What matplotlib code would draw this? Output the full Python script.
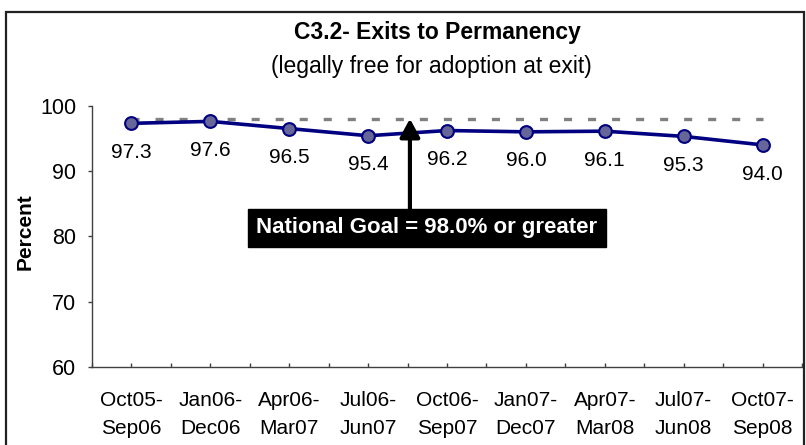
import matplotlib
matplotlib.use("Agg")
import matplotlib.pyplot as plt
from matplotlib.patches import Rectangle
from matplotlib.ticker import FixedLocator

plt.rcParams['font.family'] = ['Liberation Sans', 'DejaVu Sans']
plt.rcParams['lines.scale_dashes'] = False

# ---- data ----
categories = ["Oct05-\nSep06", "Jan06-\nDec06", "Apr06-\nMar07", "Jul06-\nJun07",
              "Oct06-\nSep07", "Jan07-\nDec07", "Apr07-\nMar08", "Jul07-\nJun08",
              "Oct07-\nSep08"]
values = [97.3, 97.6, 96.5, 95.4, 96.2, 96.0, 96.1, 95.3, 94.0]
value_labels = ["97.3", "97.6", "96.5", "95.4", "96.2", "96.0", "96.1", "95.3", "94.0"]
goal = 98.0
y_ticks = [60, 70, 80, 90, 100]
title = "C3.2- Exits to Permanency"
subtitle = "(legally free for adoption at exit)"
goal_text = "National Goal = 98.0% or greater"

W, H = 806, 445
fig = plt.figure(figsize=(W / 100, H / 100), dpi=100)

# axes placement in pixels
ax_l, ax_r, ax_t, ax_b = 92, 802, 105.7, 367
ax = fig.add_axes([ax_l / W, 1 - ax_b / H, (ax_r - ax_l) / W, (ax_b - ax_t) / H])

x = list(range(len(values)))

# goal line
ax.plot([x[0], x[-1]], [goal, goal], color='#808080', lw=2.4,
        dashes=(5.8, 11.5), solid_capstyle='butt', dash_capstyle='butt', zorder=2)

# series
ax.plot(x, values, color='#000080', lw=2.6, marker='o', ms=9.2,
        markerfacecolor='#666699', markeredgecolor='#000080', mew=1.5, zorder=3)

for xi, v, lab in zip(x, values, value_labels):
    ax.annotate(lab, xy=(xi, v), xytext=(0, -21), textcoords='offset points',
                ha='center', va='center', fontsize=15, color='black')

ax.set_xlim(-0.5, len(values) - 0.5)
ax.set_ylim(60, 100)
ax.set_yticks(y_ticks)
ax.set_yticklabels([str(t) for t in y_ticks], fontsize=15.5)
ax.set_xticks(x)
ax.set_xticklabels(categories, fontsize=15, linespacing=1.6)
ax.xaxis.set_minor_locator(FixedLocator([i - 0.5 for i in range(len(values) + 1)]))

for s in ['top', 'right']:
    ax.spines[s].set_visible(False)
for s in ['left', 'bottom']:
    ax.spines[s].set_color('#404040')
    ax.spines[s].set_linewidth(1.0)

ax.tick_params(axis='y', direction='out', length=3.2, width=1.0, color='#404040', pad=8)
ax.tick_params(axis='x', which='both', direction='in', length=3.0, width=1.0,
               color='#404040', pad=17.5)

# y label
fig.text(25 / W, 1 - 232 / H, "Percent", rotation=90, ha='center', va='center',
         fontsize=15, fontweight='bold')

# goal annotation box and arrow
arrow_x = 3.53
ax.annotate('', xy=(arrow_x, goal), xytext=(arrow_x, 84.2),
            arrowprops=dict(arrowstyle='-|>,head_length=1.1,head_width=0.6',
                            color='black', lw=3, shrinkA=0, shrinkB=0,
                            mutation_scale=10), zorder=4)
ax.text(3.746, 81.28, goal_text, ha='center', va='center', fontsize=16,
        fontweight='bold', color='white', zorder=5,
        bbox=dict(boxstyle='square,pad=0.38', fc='black', ec='black'))

# titles
fig.text(437 / W, 1 - 33 / H, title, ha='center', va='center', fontsize=16.5, fontweight='bold')
fig.text(431 / W, 1 - 67 / H, subtitle, ha='center', va='center', fontsize=16.5)

# outer border
fig.patches.append(Rectangle((6 / W, -0.02), (804 - 6) / W, 1.02 - 12 / H,
                             transform=fig.transFigure, fill=False, ec='#222222',
                             lw=1.6, zorder=10))

fig.savefig("out.png", dpi=100)
